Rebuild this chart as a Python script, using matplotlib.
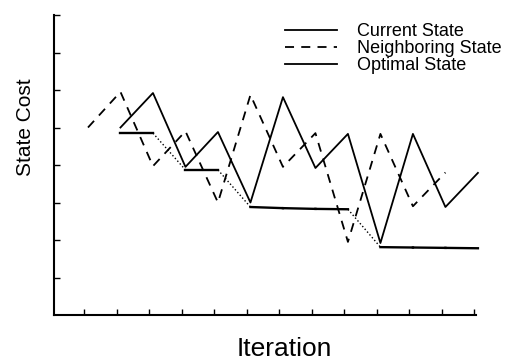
import numpy as np
import matplotlib
matplotlib.use("Agg")
import matplotlib.pyplot as plt

# --- data ---
neighbor_iter = [1, 2, 3, 4, 5, 6, 7, 8, 9, 10, 11, 12]
neighbor_cost = [5.0, 5.95, 3.97, 4.9, 3.0, 5.87, 3.95, 4.85, 1.95, 4.83, 2.9, 3.8]

current_iter = [2, 3, 4, 5, 6, 7, 8, 9, 10, 11, 12, 13]
current_cost = [5.0, 5.92, 3.95, 4.88, 3.0, 5.81, 3.92, 4.83, 1.92, 4.83, 2.88, 3.79]

optimal_iter = [2, 3, 4, 5, 6, 7, 8, 9, 10, 11, 12, 13]
optimal_cost = [4.85, 4.85, 3.87, 3.87, 2.88, 2.85, 2.83, 2.82, 1.81, 1.8, 1.79, 1.78]

plt.rcParams['font.family'] = ['Liberation Sans', 'DejaVu Sans']

fig = plt.figure(figsize=(5.05, 3.61), dpi=100)
ax = fig.add_axes([0.1069, 0.1274, 0.8356, 0.831])

ax.plot(current_iter, current_cost, color='black', lw=1.3, ls='-',
        label='Current State', clip_on=False)
ax.plot(neighbor_iter, neighbor_cost, color='black', lw=1.3,
        ls=(0, (5, 4)), label='Neighboring State', clip_on=False)

# optimal state: solid while flat, dotted where it drops
for i in range(len(optimal_iter) - 1):
    flat = abs(optimal_cost[i + 1] - optimal_cost[i]) < 0.3
    ax.plot(optimal_iter[i:i + 2], optimal_cost[i:i + 2], color='black',
            lw=1.7 if flat else 1.0, ls='-' if flat else ':', clip_on=False,
            label='Optimal State' if i == 0 else None)

ax.set_xlim(-0.046, 12.94)
ax.set_ylim(0, 8)
ax.set_xticks(np.arange(1, 14) - 0.12)
ax.set_yticks(np.arange(1, 9))
ax.tick_params(axis='both', direction='in', length=4, width=1.0,
               labelbottom=False, labelleft=False)
for s in ['top', 'right']:
    ax.spines[s].set_visible(False)
for s in ['left', 'bottom']:
    ax.spines[s].set_linewidth(1.5)

ax.set_ylabel('State Cost', fontsize=15)
ax.yaxis.set_label_coords(-0.045, 0.627)
ax.set_xlabel('Iteration', fontsize=19)
ax.xaxis.set_label_coords(0.545, -0.072)

leg = ax.legend(loc='upper left', bbox_to_anchor=(0.53, 0.998), frameon=False,
                fontsize=13, handlelength=2.9, handletextpad=1.1,
                labelspacing=0.0, borderaxespad=0.0)
for h in leg.get_lines():
    h.set_linewidth(1.3)

fig.savefig('out.png', dpi=100)
